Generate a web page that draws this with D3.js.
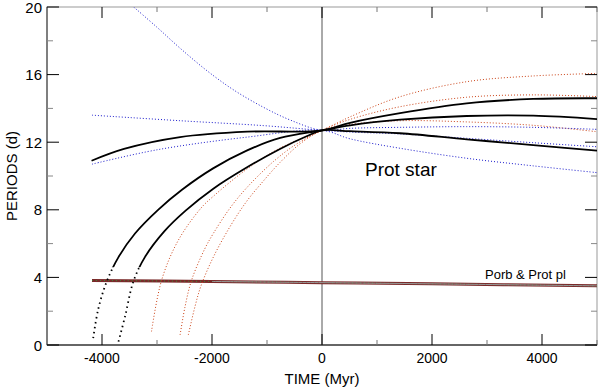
<!DOCTYPE html>
<html>
<head>
<meta charset="utf-8">
<script src="https://cdnjs.cloudflare.com/ajax/libs/d3/7.8.5/d3.min.js"></script>
<style>
  body { margin: 0; background: #fff; }
  text { font-family: "Liberation Sans", Arial, sans-serif; }
</style>
</head>
<body>
<svg width="600" height="387"></svg>
<script>
// tick labels
var xTicks = [-4000, -2000, 0, 2000, 4000];
var yTicks = [0, 4, 8, 12, 16, 20];

// star rotation tracks, [time Myr, period d]
var blackUpper = [[-4190, 10.9], [-3600, 11.6], [-2580, 12.3], [-1360, 12.62], [0, 12.7],
                  [510, 13.15], [1420, 13.72], [2630, 14.3], [3840, 14.56], [5000, 14.6]];
var blackMid = [[-4160, 0.4], [-4070, 2.1], [-3915, 3.75], [-3700, 5.2], [-3400, 6.6], [-2980, 8.0],
                [-2540, 9.2], [-1980, 10.45], [-1370, 11.5], [-760, 12.25], [0, 12.7],
                [510, 13.0], [1420, 13.33], [2630, 13.55], [3840, 13.57], [5000, 13.37]];
var blackLow = [[-3700, 0.2], [-3580, 1.7], [-3430, 3.75], [-3220, 5.2], [-2860, 6.75], [-2480, 7.95],
                [-1976, 9.25], [-1370, 10.5], [-764, 11.6], [-280, 12.35], [0, 12.7],
                [510, 12.65], [1420, 12.53], [2630, 12.17], [3840, 11.83], [5000, 11.5]];
var redA = [[-3100, 0.8], [-2915, 3.85], [-2612, 6.2], [-2200, 8.1], [-1976, 8.8], [-1370, 10.4],
            [-764, 11.65], [0, 12.7],
            [510, 13.5], [1420, 14.69], [2630, 15.58], [3840, 15.92], [5000, 16.07]];
var redB = [[-2580, 0.6], [-2490, 2.27], [-2370, 3.85], [-2130, 5.7], [-1976, 6.6], [-1673, 8.1],
            [-1370, 9.3], [-885, 10.85], [-460, 11.9], [0, 12.7],
            [510, 13.35], [1420, 14.1], [2630, 14.66], [3840, 14.8], [5000, 14.7]];
var redC = [[-2430, 0.6], [-2310, 2.27], [-2200, 3.5], [-1976, 5.2], [-1673, 7.0], [-1370, 8.5],
            [-1067, 9.7], [-764, 10.8], [-400, 11.9], [0, 12.7],
            [510, 13.05], [1420, 13.27], [2630, 13.2], [3840, 13.0], [5000, 12.62]];
var blueSteep = [[-3424, 20], [-3000, 18.8], [-2576, 17.55], [-2091, 16.23], [-1606, 15.09],
                 [-1061, 14.06], [-576, 13.31], [0, 12.7],
                 [510, 12.82], [1420, 12.88], [2630, 12.92], [3840, 12.88], [5000, 12.76]];
var blueFlat = [[-4182, 13.6], [-2576, 13.27], [-1061, 12.98], [0, 12.7],
                [510, 12.6], [1420, 12.49], [2630, 12.23], [3840, 11.97], [5000, 11.73]];
var blueRise = [[-4182, 10.7], [-3000, 11.55], [-1364, 12.3], [0, 12.7],
                [510, 12.2], [1420, 11.64], [2630, 11.05], [3840, 10.6], [5000, 10.2]];

// planet orbital / rotation period
var planetTime = [-4182, -2000, 0, 2000, 5000];
var planetPorb = [3.82, 3.76, 3.69, 3.62, 3.5];

var svg = d3.select("svg");
var x = d3.scaleLinear().domain([-5000, 5000]).range([47, 597]);
var y = d3.scaleLinear().domain([0, 20]).range([345, 7]);

var line = d3.line()
  .x(function (d) { return x(d[0]); })
  .y(function (d) { return y(d[1]); })
  .curve(d3.curveCatmullRom.alpha(0.5));

var defs = svg.append("defs");
defs.append("clipPath").attr("id", "clip").append("rect")
  .attr("x", x(-5000)).attr("y", y(20))
  .attr("width", x(5000) - x(-5000)).attr("height", y(0) - y(20));
// steep early parts of the black tracks look dotted
defs.append("clipPath").attr("id", "clipHi").append("rect")
  .attr("x", x(-5000)).attr("y", y(20))
  .attr("width", x(5000) - x(-5000)).attr("height", y(4.6) - y(20));
defs.append("clipPath").attr("id", "clipLo").append("rect")
  .attr("x", x(-5000)).attr("y", y(4.6))
  .attr("width", x(5000) - x(-5000)).attr("height", y(0) - y(4.6));

var plot = svg.append("g");

// frame
plot.append("rect")
  .attr("x", x(-5000)).attr("y", y(20))
  .attr("width", x(5000) - x(-5000)).attr("height", y(0) - y(20))
  .attr("fill", "none").attr("stroke", "#999").attr("stroke-width", 1);
plot.append("line")
  .attr("x1", x(-5000)).attr("x2", x(5000)).attr("y1", y(0)).attr("y2", y(0))
  .attr("stroke", "#000");
plot.append("line")
  .attr("x1", x(-5000)).attr("x2", x(-5000)).attr("y1", y(0)).attr("y2", y(20))
  .attr("stroke", "#333");
plot.append("line")
  .attr("x1", x(0)).attr("x2", x(0)).attr("y1", y(0)).attr("y2", y(20))
  .attr("stroke", "#555");

// ticks (inward, both sides)
d3.range(-4000, 5001, 1000).forEach(function (v) {
  var major = v % 2000 === 0;
  var len = major ? 11 : 5;
  plot.append("line").attr("x1", x(v)).attr("x2", x(v))
    .attr("y1", y(0)).attr("y2", y(0) - len)
    .attr("stroke", major ? "#000" : "#777");
  plot.append("line").attr("x1", x(v)).attr("x2", x(v))
    .attr("y1", y(20)).attr("y2", y(20) + len)
    .attr("stroke", major ? "#000" : "#777");
});
d3.range(0, 21, 2).forEach(function (v) {
  var major = v % 4 === 0;
  var len = major ? 12 : 6;
  plot.append("line").attr("x1", x(-5000)).attr("x2", x(-5000) + len)
    .attr("y1", y(v)).attr("y2", y(v))
    .attr("stroke", major ? "#000" : "#888");
  plot.append("line").attr("x1", x(5000)).attr("x2", x(5000) - len)
    .attr("y1", y(v)).attr("y2", y(v))
    .attr("stroke", major ? "#000" : "#888");
});

// tick labels
svg.selectAll(".xl").data(xTicks).enter().append("text")
  .attr("x", function (d) { return x(d); }).attr("y", 363)
  .attr("text-anchor", "middle").attr("font-size", 14)
  .text(function (d) { return d; });
svg.selectAll(".yl").data(yTicks).enter().append("text")
  .attr("x", 42).attr("y", function (d) { return y(d) + 5.5; })
  .attr("text-anchor", "end").attr("font-size", 15)
  .text(function (d) { return d; });

svg.append("text").attr("x", 322).attr("y", 384)
  .attr("text-anchor", "middle").attr("font-size", 15).text("TIME (Myr)");
svg.append("text")
  .attr("transform", "translate(17,176) rotate(-90)")
  .attr("text-anchor", "middle").attr("font-size", 15).text("PERIODS (d)");

var curves = plot.append("g").attr("clip-path", "url(#clip)");

// planet period lines
var planet = planetTime.map(function (t, i) { return [t, planetPorb[i]]; });
curves.append("path").datum(planet).attr("d", line)
  .attr("fill", "none").attr("stroke", "#7a2a2a").attr("stroke-width", 3);
curves.append("path").datum(planet).attr("d", line)
  .attr("fill", "none").attr("stroke", "#3a8a3a").attr("stroke-width", 1)
  .attr("stroke-dasharray", "1,3");
curves.append("path").datum(planet.filter(function (d) { return d[0] >= -2000; })).attr("d", line)
  .attr("fill", "none").attr("stroke", "#999").attr("stroke-width", 1);

// star tracks
[redA, redB, redC].forEach(function (s) {
  curves.append("path").datum(s).attr("d", line)
    .attr("fill", "none").attr("stroke", "#cc4418").attr("stroke-width", 1)
    .attr("stroke-dasharray", "1,2");
});
[blueSteep, blueFlat, blueRise].forEach(function (s) {
  curves.append("path").datum(s).attr("d", line)
    .attr("fill", "none").attr("stroke", "#1a1acc").attr("stroke-width", 1)
    .attr("stroke-dasharray", "1,2");
});
var hi = curves.append("g").attr("clip-path", "url(#clipHi)");
var lo = curves.append("g").attr("clip-path", "url(#clipLo)");
[blackUpper, blackMid, blackLow].forEach(function (s) {
  hi.append("path").datum(s).attr("d", line)
    .attr("fill", "none").attr("stroke", "#000").attr("stroke-width", 1.8);
  lo.append("path").datum(s).attr("d", line)
    .attr("fill", "none").attr("stroke", "#000").attr("stroke-width", 1.8)
    .attr("stroke-dasharray", "1.5,3.5");
});

svg.append("text").attr("x", 365).attr("y", 176)
  .attr("font-size", 19).text("Prot star");
svg.append("text").attr("x", 485).attr("y", 279)
  .attr("font-size", 13).text("Porb & Prot pl");
</script>
</body>
</html>
